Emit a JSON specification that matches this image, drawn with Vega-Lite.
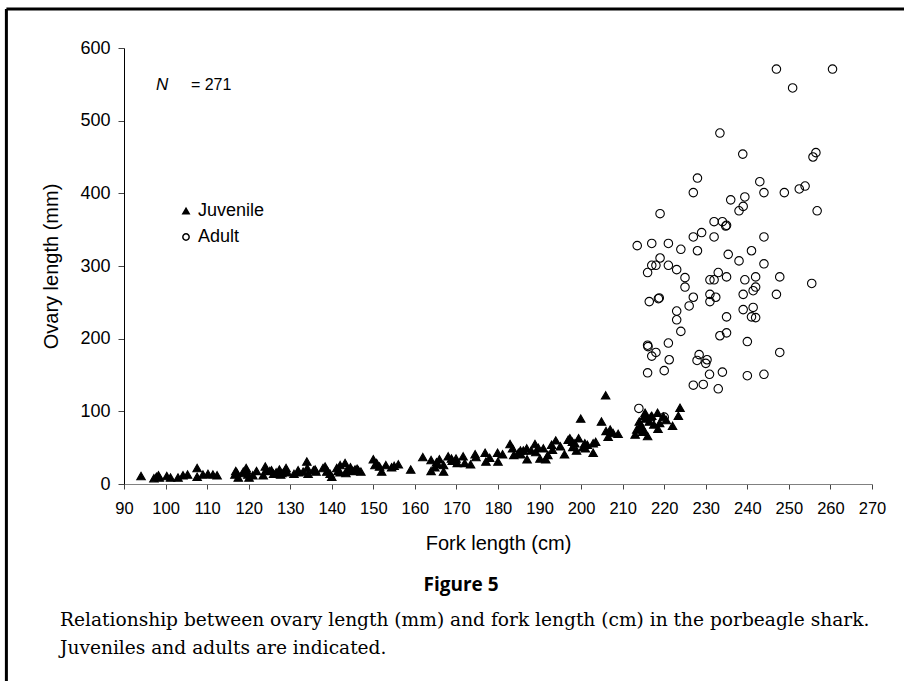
{
  "$schema": "https://vega.github.io/schema/vega-lite/v6.json",
  "autosize": {"type": "none"},
  "width": 748,
  "height": 436,
  "padding": {"left": 124, "top": 48, "right": 32, "bottom": 197},
  "background": "white",
  "config": {"view": {"stroke": null}, "font": "Liberation Sans"},
  "data": {"values": [
    {"fl":94.1,"ol":11,"stage":"Juvenile"},{"fl":97.2,"ol":8,"stage":"Juvenile"},{"fl":97.8,"ol":10,"stage":"Juvenile"},{"fl":98.3,"ol":12,"stage":"Juvenile"},{"fl":98.5,"ol":9,"stage":"Juvenile"},
    {"fl":100.3,"ol":11,"stage":"Juvenile"},{"fl":101.2,"ol":9,"stage":"Juvenile"},{"fl":103,"ol":9,"stage":"Juvenile"},{"fl":104.2,"ol":12,"stage":"Juvenile"},{"fl":105.3,"ol":13,"stage":"Juvenile"},
    {"fl":107.6,"ol":22,"stage":"Juvenile"},{"fl":107.6,"ol":10,"stage":"Juvenile"},{"fl":109,"ol":13,"stage":"Juvenile"},{"fl":110.2,"ol":14,"stage":"Juvenile"},{"fl":111.4,"ol":13,"stage":"Juvenile"},
    {"fl":112.4,"ol":12,"stage":"Juvenile"},{"fl":116.7,"ol":13,"stage":"Juvenile"},{"fl":116.9,"ol":18,"stage":"Juvenile"},{"fl":117.5,"ol":9,"stage":"Juvenile"},{"fl":117.1,"ol":16,"stage":"Juvenile"},
    {"fl":118.7,"ol":17,"stage":"Juvenile"},{"fl":119.4,"ol":22,"stage":"Juvenile"},{"fl":119.5,"ol":19,"stage":"Juvenile"},{"fl":119.8,"ol":13,"stage":"Juvenile"},{"fl":120.1,"ol":9,"stage":"Juvenile"},
    {"fl":119,"ol":15,"stage":"Juvenile"},{"fl":121,"ol":12,"stage":"Juvenile"},{"fl":121.9,"ol":18,"stage":"Juvenile"},{"fl":123.5,"ol":12,"stage":"Juvenile"},{"fl":124,"ol":24,"stage":"Juvenile"},
    {"fl":124.2,"ol":19,"stage":"Juvenile"},{"fl":125.1,"ol":18,"stage":"Juvenile"},{"fl":125.5,"ol":19,"stage":"Juvenile"},{"fl":126,"ol":14,"stage":"Juvenile"},{"fl":126.6,"ol":16,"stage":"Juvenile"},
    {"fl":127.4,"ol":20,"stage":"Juvenile"},{"fl":127.7,"ol":13,"stage":"Juvenile"},{"fl":128,"ol":15,"stage":"Juvenile"},{"fl":128.7,"ol":18,"stage":"Juvenile"},{"fl":129,"ol":22,"stage":"Juvenile"},
    {"fl":129.3,"ol":16,"stage":"Juvenile"},{"fl":130.9,"ol":14,"stage":"Juvenile"},{"fl":131.9,"ol":19,"stage":"Juvenile"},{"fl":132,"ol":16,"stage":"Juvenile"},{"fl":133.1,"ol":17,"stage":"Juvenile"},
    {"fl":134,"ol":31,"stage":"Juvenile"},{"fl":134.1,"ol":22,"stage":"Juvenile"},{"fl":134.3,"ol":14,"stage":"Juvenile"},{"fl":135.6,"ol":19,"stage":"Juvenile"},{"fl":136.2,"ol":17,"stage":"Juvenile"},
    {"fl":136,"ol":20,"stage":"Juvenile"},{"fl":137.9,"ol":22,"stage":"Juvenile"},{"fl":138.4,"ol":24,"stage":"Juvenile"},{"fl":138.8,"ol":17,"stage":"Juvenile"},{"fl":139,"ol":18,"stage":"Juvenile"},
    {"fl":139.6,"ol":14,"stage":"Juvenile"},{"fl":140,"ol":10,"stage":"Juvenile"},{"fl":141.2,"ol":22,"stage":"Juvenile"},{"fl":141.5,"ol":18,"stage":"Juvenile"},{"fl":142,"ol":26,"stage":"Juvenile"},
    {"fl":142,"ol":16,"stage":"Juvenile"},{"fl":143.2,"ol":29,"stage":"Juvenile"},{"fl":143.4,"ol":15,"stage":"Juvenile"},{"fl":143.7,"ol":20,"stage":"Juvenile"},{"fl":144.5,"ol":23,"stage":"Juvenile"},
    {"fl":145.1,"ol":18,"stage":"Juvenile"},{"fl":145.6,"ol":20,"stage":"Juvenile"},{"fl":146.4,"ol":19,"stage":"Juvenile"},{"fl":146.1,"ol":21,"stage":"Juvenile"},{"fl":147,"ol":17,"stage":"Juvenile"},
    {"fl":150,"ol":34,"stage":"Juvenile"},{"fl":150.4,"ol":26,"stage":"Juvenile"},{"fl":150.8,"ol":29,"stage":"Juvenile"},{"fl":151.5,"ol":24,"stage":"Juvenile"},{"fl":152,"ol":17,"stage":"Juvenile"},
    {"fl":153,"ol":26,"stage":"Juvenile"},{"fl":154.4,"ol":23,"stage":"Juvenile"},{"fl":155,"ol":25,"stage":"Juvenile"},{"fl":156,"ol":27,"stage":"Juvenile"},{"fl":159,"ol":20,"stage":"Juvenile"},
    {"fl":161.9,"ol":37,"stage":"Juvenile"},{"fl":163.9,"ol":33,"stage":"Juvenile"},{"fl":163.9,"ol":18,"stage":"Juvenile"},{"fl":164.8,"ol":23,"stage":"Juvenile"},{"fl":165.2,"ol":30,"stage":"Juvenile"},
    {"fl":165.5,"ol":27,"stage":"Juvenile"},{"fl":165.9,"ol":34,"stage":"Juvenile"},{"fl":166.9,"ol":26,"stage":"Juvenile"},{"fl":166.9,"ol":17,"stage":"Juvenile"},{"fl":168,"ol":38,"stage":"Juvenile"},
    {"fl":168.8,"ol":35,"stage":"Juvenile"},{"fl":169,"ol":32,"stage":"Juvenile"},{"fl":169.9,"ol":35,"stage":"Juvenile"},{"fl":170.2,"ol":29,"stage":"Juvenile"},{"fl":171.6,"ol":38,"stage":"Juvenile"},
    {"fl":172,"ol":29,"stage":"Juvenile"},{"fl":173.4,"ol":27,"stage":"Juvenile"},{"fl":174.5,"ol":41,"stage":"Juvenile"},{"fl":174.7,"ol":37,"stage":"Juvenile"},{"fl":176.9,"ol":43,"stage":"Juvenile"},
    {"fl":177.1,"ol":31,"stage":"Juvenile"},{"fl":178,"ol":36,"stage":"Juvenile"},{"fl":179.9,"ol":43,"stage":"Juvenile"},{"fl":180,"ol":31,"stage":"Juvenile"},{"fl":181.1,"ol":41,"stage":"Juvenile"},
    {"fl":182.9,"ol":55,"stage":"Juvenile"},{"fl":183.5,"ol":49,"stage":"Juvenile"},{"fl":183.8,"ol":40,"stage":"Juvenile"},{"fl":184.9,"ol":43,"stage":"Juvenile"},{"fl":185.4,"ol":46,"stage":"Juvenile"},
    {"fl":185.5,"ol":41,"stage":"Juvenile"},{"fl":186.1,"ol":46,"stage":"Juvenile"},{"fl":186.9,"ol":49,"stage":"Juvenile"},{"fl":187,"ol":34,"stage":"Juvenile"},{"fl":188,"ol":46,"stage":"Juvenile"},
    {"fl":188.9,"ol":55,"stage":"Juvenile"},{"fl":189.1,"ol":44,"stage":"Juvenile"},{"fl":189.7,"ol":50,"stage":"Juvenile"},{"fl":190.1,"ol":35,"stage":"Juvenile"},{"fl":190.9,"ol":49,"stage":"Juvenile"},
    {"fl":191.5,"ol":34,"stage":"Juvenile"},{"fl":192,"ol":40,"stage":"Juvenile"},{"fl":192.9,"ol":54,"stage":"Juvenile"},{"fl":193.1,"ol":47,"stage":"Juvenile"},{"fl":193.9,"ol":60,"stage":"Juvenile"},
    {"fl":195,"ol":52,"stage":"Juvenile"},{"fl":196,"ol":41,"stage":"Juvenile"},{"fl":196.9,"ol":61,"stage":"Juvenile"},{"fl":197.3,"ol":63,"stage":"Juvenile"},{"fl":197.9,"ol":58,"stage":"Juvenile"},
    {"fl":198,"ol":51,"stage":"Juvenile"},{"fl":198.5,"ol":56,"stage":"Juvenile"},{"fl":198.9,"ol":46,"stage":"Juvenile"},{"fl":199.4,"ol":63,"stage":"Juvenile"},{"fl":200.5,"ol":51,"stage":"Juvenile"},
    {"fl":200.9,"ol":56,"stage":"Juvenile"},{"fl":201,"ol":49,"stage":"Juvenile"},{"fl":201.5,"ol":54,"stage":"Juvenile"},{"fl":202.9,"ol":56,"stage":"Juvenile"},{"fl":202.9,"ol":43,"stage":"Juvenile"},
    {"fl":203.5,"ol":58,"stage":"Juvenile"},{"fl":199.9,"ol":90,"stage":"Juvenile"},{"fl":204.9,"ol":86,"stage":"Juvenile"},{"fl":205.9,"ol":122,"stage":"Juvenile"},{"fl":206,"ol":73,"stage":"Juvenile"},
    {"fl":206.5,"ol":65,"stage":"Juvenile"},{"fl":207,"ol":75,"stage":"Juvenile"},{"fl":207.7,"ol":70,"stage":"Juvenile"},{"fl":208.9,"ol":69,"stage":"Juvenile"},
    {"fl":213,"ol":68,"stage":"Juvenile"},{"fl":213.4,"ol":75,"stage":"Juvenile"},{"fl":214,"ol":86,"stage":"Juvenile"},{"fl":214.3,"ol":81,"stage":"Juvenile"},{"fl":214.6,"ol":79,"stage":"Juvenile"},
    {"fl":214.8,"ol":72,"stage":"Juvenile"},{"fl":215,"ol":75,"stage":"Juvenile"},{"fl":215.2,"ol":94,"stage":"Juvenile"},{"fl":215.4,"ol":98,"stage":"Juvenile"},{"fl":215.5,"ol":90,"stage":"Juvenile"},
    {"fl":216,"ol":66,"stage":"Juvenile"},{"fl":216.4,"ol":86,"stage":"Juvenile"},{"fl":216.7,"ol":92,"stage":"Juvenile"},{"fl":217,"ol":94,"stage":"Juvenile"},{"fl":217.5,"ol":82,"stage":"Juvenile"},
    {"fl":218.4,"ol":98,"stage":"Juvenile"},{"fl":218.5,"ol":76,"stage":"Juvenile"},{"fl":218.9,"ol":84,"stage":"Juvenile"},{"fl":219.8,"ol":93,"stage":"Juvenile"},{"fl":220.5,"ol":88,"stage":"Juvenile"},
    {"fl":222,"ol":80,"stage":"Juvenile"},{"fl":223.4,"ol":94,"stage":"Juvenile"},{"fl":223.8,"ol":105,"stage":"Juvenile"},
    {"fl":247,"ol":571,"stage":"Adult"},{"fl":260.5,"ol":571,"stage":"Adult"},{"fl":250.9,"ol":545,"stage":"Adult"},{"fl":233.4,"ol":483,"stage":"Adult"},{"fl":238.9,"ol":454,"stage":"Adult"},
    {"fl":256.5,"ol":456,"stage":"Adult"},{"fl":255.8,"ol":450,"stage":"Adult"},{"fl":228,"ol":421,"stage":"Adult"},{"fl":227,"ol":401,"stage":"Adult"},{"fl":243,"ol":416,"stage":"Adult"},
    {"fl":244,"ol":401,"stage":"Adult"},{"fl":248.9,"ol":401,"stage":"Adult"},{"fl":252.5,"ol":406,"stage":"Adult"},{"fl":253.9,"ol":410,"stage":"Adult"},{"fl":236,"ol":391,"stage":"Adult"},
    {"fl":239.4,"ol":395,"stage":"Adult"},{"fl":239,"ol":382,"stage":"Adult"},{"fl":238,"ol":376,"stage":"Adult"},{"fl":219,"ol":372,"stage":"Adult"},{"fl":256.8,"ol":376,"stage":"Adult"},
    {"fl":232,"ol":361,"stage":"Adult"},{"fl":234,"ol":361,"stage":"Adult"},{"fl":234.8,"ol":355,"stage":"Adult"},{"fl":235,"ol":356,"stage":"Adult"},{"fl":227,"ol":340,"stage":"Adult"},
    {"fl":229,"ol":346,"stage":"Adult"},{"fl":232,"ol":340,"stage":"Adult"},{"fl":244,"ol":340,"stage":"Adult"},{"fl":213.5,"ol":328,"stage":"Adult"},{"fl":217,"ol":331,"stage":"Adult"},
    {"fl":221,"ol":331,"stage":"Adult"},{"fl":224,"ol":323,"stage":"Adult"},{"fl":228,"ol":321,"stage":"Adult"},{"fl":235.4,"ol":316,"stage":"Adult"},{"fl":238,"ol":307,"stage":"Adult"},
    {"fl":241,"ol":321,"stage":"Adult"},{"fl":244,"ol":303,"stage":"Adult"},{"fl":219,"ol":311,"stage":"Adult"},{"fl":217,"ol":301,"stage":"Adult"},{"fl":218,"ol":301,"stage":"Adult"},
    {"fl":216,"ol":291,"stage":"Adult"},{"fl":221,"ol":301,"stage":"Adult"},{"fl":223,"ol":295,"stage":"Adult"},{"fl":225,"ol":284,"stage":"Adult"},{"fl":225,"ol":271,"stage":"Adult"},
    {"fl":233,"ol":291,"stage":"Adult"},{"fl":235,"ol":285,"stage":"Adult"},{"fl":231,"ol":281,"stage":"Adult"},{"fl":232,"ol":281,"stage":"Adult"},{"fl":239.4,"ol":281,"stage":"Adult"},
    {"fl":242,"ol":285,"stage":"Adult"},{"fl":247.8,"ol":285,"stage":"Adult"},{"fl":255.5,"ol":276,"stage":"Adult"},{"fl":242,"ol":271,"stage":"Adult"},{"fl":241.4,"ol":266,"stage":"Adult"},
    {"fl":239,"ol":261,"stage":"Adult"},{"fl":247,"ol":261,"stage":"Adult"},{"fl":227,"ol":257,"stage":"Adult"},{"fl":231,"ol":261,"stage":"Adult"},{"fl":231,"ol":251,"stage":"Adult"},
    {"fl":232.4,"ol":257,"stage":"Adult"},{"fl":216.4,"ol":251,"stage":"Adult"},{"fl":218.6,"ol":255,"stage":"Adult"},{"fl":218.8,"ol":256,"stage":"Adult"},{"fl":226,"ol":245,"stage":"Adult"},
    {"fl":223,"ol":238,"stage":"Adult"},{"fl":239,"ol":240,"stage":"Adult"},{"fl":241.4,"ol":243,"stage":"Adult"},{"fl":241,"ol":230,"stage":"Adult"},{"fl":242,"ol":229,"stage":"Adult"},
    {"fl":223,"ol":226,"stage":"Adult"},{"fl":235,"ol":230,"stage":"Adult"},{"fl":224,"ol":210,"stage":"Adult"},{"fl":235,"ol":208,"stage":"Adult"},{"fl":233.4,"ol":204,"stage":"Adult"},
    {"fl":240,"ol":196,"stage":"Adult"},{"fl":247.8,"ol":181,"stage":"Adult"},{"fl":216,"ol":191,"stage":"Adult"},{"fl":216.1,"ol":189,"stage":"Adult"},{"fl":221,"ol":194,"stage":"Adult"},
    {"fl":218,"ol":181,"stage":"Adult"},{"fl":217,"ol":176,"stage":"Adult"},{"fl":221.2,"ol":171,"stage":"Adult"},{"fl":228.4,"ol":178,"stage":"Adult"},{"fl":227.9,"ol":170,"stage":"Adult"},
    {"fl":230.3,"ol":171,"stage":"Adult"},{"fl":230,"ol":166,"stage":"Adult"},{"fl":216,"ol":153,"stage":"Adult"},{"fl":220,"ol":156,"stage":"Adult"},{"fl":230.9,"ol":151,"stage":"Adult"},
    {"fl":234,"ol":154,"stage":"Adult"},{"fl":240,"ol":149,"stage":"Adult"},{"fl":244,"ol":151,"stage":"Adult"},{"fl":227,"ol":136,"stage":"Adult"},{"fl":229.4,"ol":137,"stage":"Adult"},
    {"fl":233,"ol":131,"stage":"Adult"},{"fl":213.9,"ol":104,"stage":"Adult"},{"fl":220,"ol":92,"stage":"Adult"}
  ]},
  "layer": [
    {
      "mark": {"type": "point", "filled": true, "opacity": 1, "stroke": "black", "strokeWidth": 1.1, "size": 72},
      "encoding": {
        "x": {"field": "fl", "type": "quantitative", "scale": {"domain": [90, 270], "nice": false, "zero": false},
          "axis": {"title": "Fork length (cm)", "values": [90,100,110,120,130,140,150,160,170,180,190,200,210,220,230,240,250,260,270],
            "labelOverlap": false, "labelFlush": false, "grid": false, "domainColor": "#808080", "tickColor": "#444", "tickSize": 5, "labelPadding": 11,
            "labelFont": "Liberation Sans", "labelFontSize": 16.5, "labelColor": "black",
            "titleFont": "Liberation Sans", "titleFontSize": 20, "titleFontWeight": "normal", "titleColor": "black", "titlePadding": 17}},
        "y": {"field": "ol", "type": "quantitative", "scale": {"domain": [0, 600], "nice": false},
          "axis": {"title": "Ovary length (mm)", "values": [0,100,200,300,400,500,600],
            "labelOverlap": false, "labelFlush": false, "grid": false, "domainColor": "black", "tickColor": "#444", "tickSize": 6, "labelPadding": 8,
            "labelFont": "Liberation Sans", "labelFontSize": 18, "labelColor": "black",
            "titleFont": "Liberation Sans", "titleFontSize": 20, "titleFontWeight": "normal", "titleColor": "black", "titlePadding": 18}},
        "shape": {"field": "stage", "type": "nominal",
          "scale": {"domain": ["Juvenile", "Adult"], "range": ["triangle-up", "circle"]},
          "legend": {"title": null, "orient": "none", "legendX": 53, "legendY": 154, "symbolSize": 40,
            "labelFont": "Liberation Sans", "labelFontSize": 18, "labelColor": "black", "labelOffset": 3, "rowPadding": 8,
            "encode": {"symbols": {"update": {"stroke": {"value": "black"}, "strokeWidth": {"value": 1}}}}}},
        "fill": {"field": "stage", "type": "nominal",
          "scale": {"domain": ["Juvenile", "Adult"], "range": ["black", "transparent"]},
          "legend": {"title": null, "orient": "none", "legendX": 53, "legendY": 154, "symbolSize": 40,
            "labelFont": "Liberation Sans", "labelFontSize": 18, "labelColor": "black", "labelOffset": 3, "rowPadding": 8,
            "encode": {"symbols": {"update": {"stroke": {"value": "black"}, "strokeWidth": {"value": 1}}}}}}
      }
    },
    {
      "data": {"values": [{}]},
      "mark": {"type": "text", "text": "N", "fontStyle": "italic", "font": "Liberation Sans", "fontSize": 17, "align": "left", "baseline": "middle", "color": "black"},
      "encoding": {"x": {"datum": 97.7}, "y": {"datum": 549}}
    },
    {
      "data": {"values": [{}]},
      "mark": {"type": "text", "text": "= 271", "font": "Liberation Sans", "fontSize": 16, "align": "left", "baseline": "middle", "color": "black"},
      "encoding": {"x": {"datum": 106.1}, "y": {"datum": 549}}
    },
    {
      "data": {"values": [{}]},
      "mark": {"type": "text", "text": "Figure 5", "font": "Open Sans", "fontWeight": "bold", "fontSize": 19, "align": "center", "baseline": "middle", "color": "black"},
      "encoding": {"x": {"datum": 171.1}, "y": {"datum": -139}}
    },
    {
      "data": {"values": [{}]},
      "mark": {"type": "text", "text": "Relationship between ovary length (mm) and fork length (cm) in the porbeagle shark.", "font": "DejaVu Serif", "fontSize": 18.6, "align": "left", "baseline": "middle", "color": "black"},
      "encoding": {"x": {"datum": 74.6}, "y": {"datum": -187}}
    },
    {
      "data": {"values": [{}]},
      "mark": {"type": "text", "text": "Juveniles and adults are indicated.", "font": "DejaVu Serif", "fontSize": 18.6, "align": "left", "baseline": "middle", "color": "black"},
      "encoding": {"x": {"datum": 74.6}, "y": {"datum": -226}}
    },
    {
      "data": {"values": [{}]},
      "mark": {"type": "rule", "color": "black", "strokeWidth": 3},
      "encoding": {"x": {"datum": 61.7}, "x2": {"datum": 280}, "y": {"datum": 653.7}}
    },
    {
      "data": {"values": [{}]},
      "mark": {"type": "rule", "color": "black", "strokeWidth": 3},
      "encoding": {"x": {"datum": 61.7}, "y": {"datum": 653.7}, "y2": {"datum": -275}}
    }
  ]
}
